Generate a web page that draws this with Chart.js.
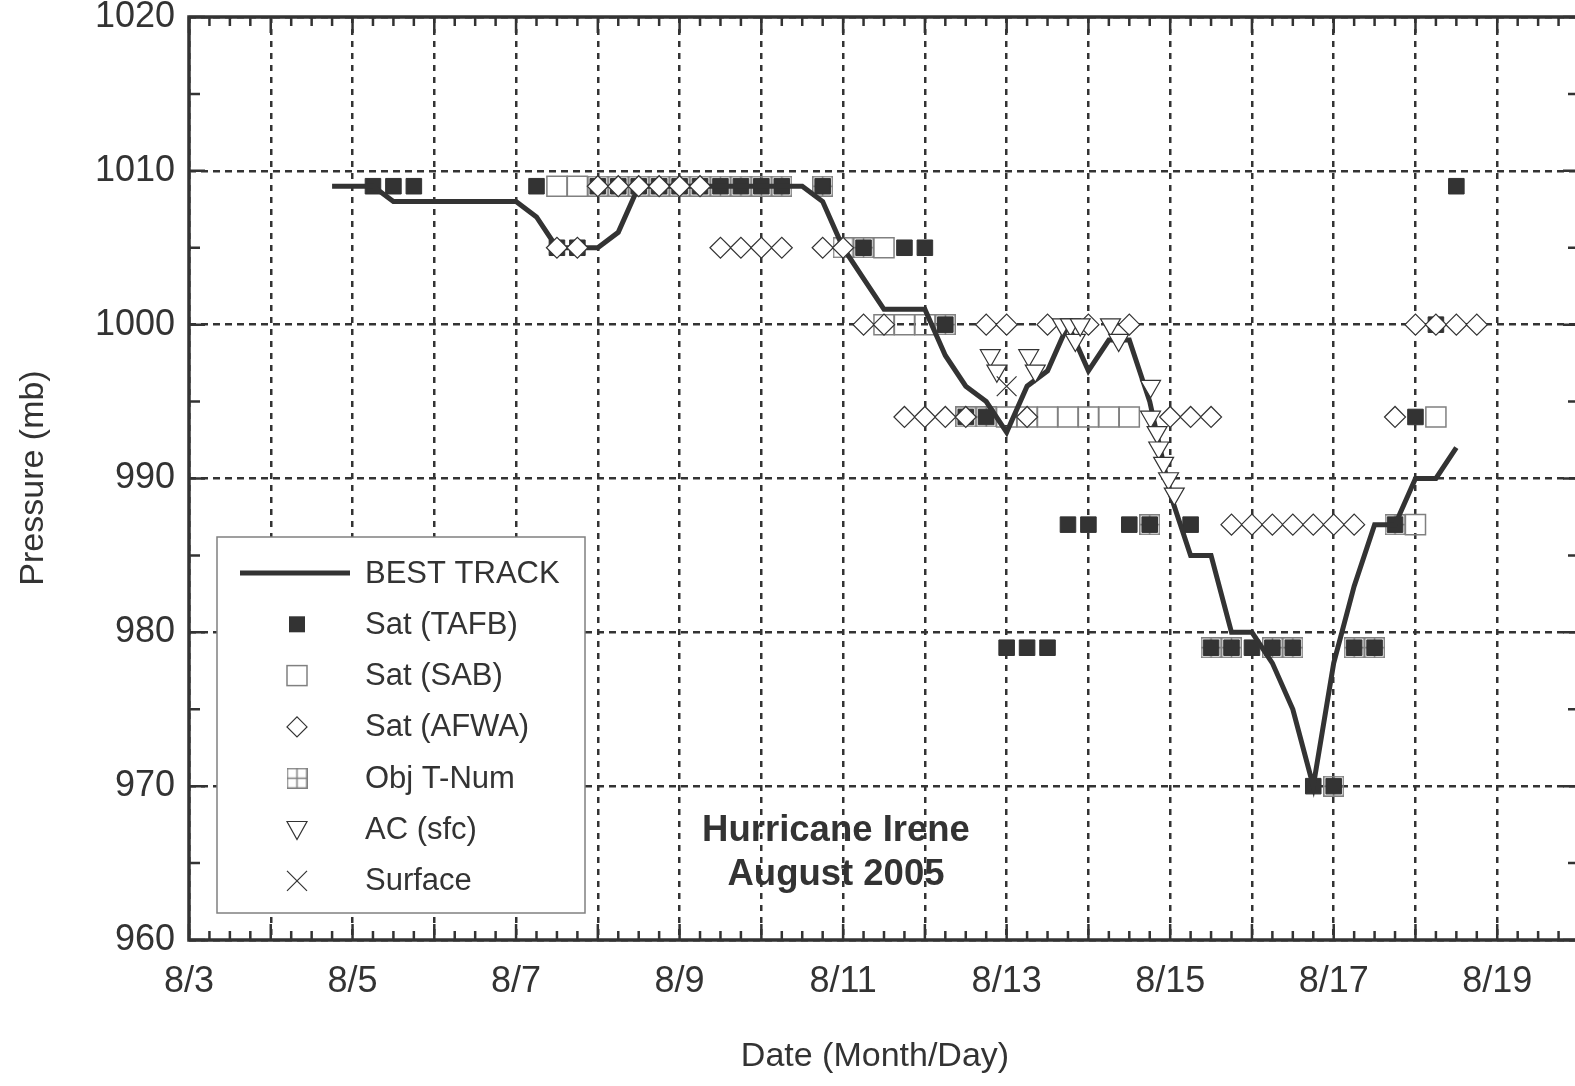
<!DOCTYPE html>
<html>
<head>
<meta charset="utf-8">
<title>Hurricane Irene - August 2005</title>
<script src="https://cdn.jsdelivr.net/npm/chart.js@4.4.1/dist/chart.umd.min.js"></script>
<style>
  html, body { margin: 0; padding: 0; background: #fff; overflow: hidden; }
  #wrap { width: 1575px; height: 1086px; overflow: hidden; }
  canvas { display: block; }
</style>
</head>
<body>
<div id="wrap"><canvas id="irene" width="1640" height="1086"></canvas></div>
<script>
// times are August days in decimal form (5.25 = 8/5 06Z), pressures in mb
const trackDay = [4.75, 5, 5.25, 5.5, 5.75, 6, 6.25, 6.5, 6.75, 7, 7.25, 7.5, 7.75, 8, 8.25, 8.5, 8.75, 9, 9.25, 9.5,
  9.75, 10, 10.25, 10.5, 10.75, 11, 11.25, 11.5, 11.75, 12, 12.25, 12.5, 12.75, 13, 13.25, 13.5, 13.75, 14, 14.25, 14.5,
  14.75, 15, 15.25, 15.5, 15.75, 16, 16.25, 16.5, 16.75, 17, 17.25, 17.5, 17.75, 18, 18.25, 18.5];
const trackPres = [1009, 1009, 1009, 1008, 1008, 1008, 1008, 1008, 1008, 1008, 1007, 1005, 1005, 1005, 1006, 1009, 1009, 1009, 1009, 1009,
  1009, 1009, 1009, 1009, 1008, 1005, 1003, 1001, 1001, 1001, 998, 996, 995, 993, 996, 997, 1000, 997, 999, 999,
  995, 989, 985, 985, 980, 980, 978, 975, 970, 978, 983, 987, 987, 990, 990, 992];

const tafbDay = [5.25, 5.5, 5.75, 7.25, 7.5, 7.75, 8, 8.25, 8.5, 8.75, 9, 9.25, 9.5, 9.75, 10, 10.25, 10.75, 11.25, 11.75, 12,
  12.25, 12.5, 12.75, 13, 13.25, 13.5, 13.75, 14, 14.5, 14.75, 15.25, 15.5, 15.75, 16, 16.25, 16.5, 16.75, 17, 17.25, 17.5,
  17.75, 18, 18.25, 18.5];
const tafbPres = [1009, 1009, 1009, 1009, 1005, 1005, 1009, 1009, 1009, 1009, 1009, 1009, 1009, 1009, 1009, 1009, 1009, 1005, 1005, 1005,
  1000, 994, 994, 979, 979, 979, 987, 987, 987, 987, 987, 979, 979, 979, 979, 979, 970, 970, 979, 979,
  987, 994, 1000, 1009];

const sabDay = [7.5, 7.75, 11.5, 11.5, 11.75, 12, 13, 13.25, 13.5, 13.75, 14, 14.25, 14.5, 18, 18.25];
const sabPres = [1009, 1009, 1005, 1000, 1000, 1000, 994, 994, 994, 994, 994, 994, 994, 987, 994];

const afwaDay = [7.5, 7.75, 8, 8.25, 8.5, 8.75, 9, 9.25, 9.5, 9.75, 10, 10.25, 10.75, 11, 11.25, 11.5, 11.75, 12, 12.25, 12.5,
  12.75, 13, 13.25, 13.5, 14, 14.5, 15, 15.25, 15.5, 15.75, 16, 16.25, 16.5, 16.75, 17, 17.25, 17.75, 18, 18.25, 18.5, 18.75];
const afwaPres = [1005, 1005, 1009, 1009, 1009, 1009, 1009, 1009, 1005, 1005, 1005, 1005, 1005, 1005, 1000, 1000, 994, 994, 994, 994,
  1000, 1000, 994, 1000, 1000, 1000, 994, 994, 994, 987, 987, 987, 987, 987, 987, 987, 994, 1000, 1000, 1000, 1000];

const objDay = [8, 8.25, 8.5, 8.75, 9, 9.25, 9.5, 9.75, 10, 10.25, 10.75, 11, 11.25, 12.25, 12.5, 12.75, 14.75, 15.5, 15.75, 16.25,
  16.5, 17, 17.25, 17.5, 17.75];
const objPres = [1009, 1009, 1009, 1009, 1009, 1009, 1009, 1009, 1009, 1009, 1009, 1005, 1005, 1000, 994, 994, 987, 979, 979, 979,
  979, 970, 979, 979, 987];

const acDay = [12.8, 12.88, 13.27, 13.35, 13.68, 13.78, 13.84, 13.9, 14.27, 14.37, 14.76, 14.76, 14.84, 14.86, 14.92, 14.98, 15.05];
const acPres = [998, 997, 998, 997, 1000, 1000, 999, 1000, 1000, 999, 996, 994, 993, 992, 991, 990, 989];

const sfcDay = [13.0];
const sfcPres = [996];

const gridDays = [3, 4, 5, 6, 7, 8, 9, 10, 11, 12, 13, 14, 15, 16, 17, 18, 19, 20];
const labelDays = [3, 5, 7, 9, 11, 13, 15, 17, 19];
const labelText = ['8/3', '8/5', '8/7', '8/9', '8/11', '8/13', '8/15', '8/17', '8/19'];

const ink = '#333';
const gray = '#808080';
const fam = '"Liberation Sans", Arial, Helvetica, sans-serif';
// the original frame runs a few pixels past the right edge of the picture
const plotBox = { left: 189, top: 17, right: 1579, bottom: 940 };

function pts(days, pres) {
  return days.map((d, i) => ({ x: d, y: pres[i] }));
}

// square with a cross, for the objective T-number marker
function gridBox(size, color) {
  const c = document.createElement('canvas');
  c.width = size; c.height = size;
  const g = c.getContext('2d');
  g.strokeStyle = color;
  g.lineWidth = 1.5;
  g.strokeRect(0.75, 0.75, size - 1.5, size - 1.5);
  g.beginPath();
  g.moveTo(size / 2, 0); g.lineTo(size / 2, size);
  g.moveTo(0, size / 2); g.lineTo(size, size / 2);
  g.stroke();
  return c;
}
const objMark = gridBox(21, gray);

function drawMark(ctx, kind, x, y) {
  ctx.save();
  ctx.lineWidth = 1.2;
  ctx.strokeStyle = ink;
  ctx.fillStyle = ink;
  ctx.beginPath();
  if (kind === 'line') {
    ctx.lineWidth = 5;
    ctx.moveTo(x - 57, y); ctx.lineTo(x + 53, y);
    ctx.stroke();
  } else if (kind === 'fill') {
    ctx.fillRect(x - 8, y - 8, 16, 16);
  } else if (kind === 'open') {
    ctx.strokeStyle = gray;
    ctx.lineWidth = 1.5;
    ctx.strokeRect(x - 10, y - 10, 20, 20);
  } else if (kind === 'diamond') {
    ctx.moveTo(x - 10, y); ctx.lineTo(x, y - 10); ctx.lineTo(x + 10, y); ctx.lineTo(x, y + 10);
    ctx.closePath(); ctx.stroke();
  } else if (kind === 'grid') {
    ctx.drawImage(objMark, x - 10.5, y - 10.5);
  } else if (kind === 'tri') {
    ctx.moveTo(x - 10, y - 8); ctx.lineTo(x + 10, y - 8); ctx.lineTo(x, y + 10);
    ctx.closePath(); ctx.stroke();
  } else if (kind === 'cross') {
    ctx.moveTo(x - 10, y - 10); ctx.lineTo(x + 10, y + 10);
    ctx.moveTo(x + 10, y - 10); ctx.lineTo(x - 10, y + 10);
    ctx.stroke();
  }
  ctx.restore();
}

const legendRows = [
  ['line', 'BEST TRACK'],
  ['fill', 'Sat (TAFB)'],
  ['open', 'Sat (SAB)'],
  ['diamond', 'Sat (AFWA)'],
  ['grid', 'Obj T-Num'],
  ['tri', 'AC (sfc)'],
  ['cross', 'Surface']
];

const noPad = () => ({ left: 0, top: 0, right: 0, bottom: 0 });

const decor = {
  id: 'decor',
  beforeDraw(chart) {
    // storm label sits under the grid, as in the original figure
    const ctx = chart.ctx;
    ctx.save();
    ctx.fillStyle = ink;
    ctx.font = 'bold 36.5px ' + fam;
    ctx.textAlign = 'center';
    ctx.textBaseline = 'middle';
    ctx.fillText('Hurricane Irene', 836, 831);
    ctx.fillText('August 2005', 836, 875);
    ctx.restore();
  },
  afterDatasetsDraw(chart) {
    const ctx = chart.ctx, a = chart.chartArea;
    const xs = chart.scales.x, ys = chart.scales.y;
    ctx.save();
    ctx.strokeStyle = ink;
    ctx.lineWidth = 2.5;
    ctx.beginPath();
    for (let d = xs.min; d <= xs.max + 1e-9; d += 0.25) {
      const px = xs.getPixelForValue(d);
      const len = Math.abs(d - Math.round(d)) < 1e-6 ? 16 : 9;
      ctx.moveTo(px, a.bottom); ctx.lineTo(px, a.bottom - len);
      ctx.moveTo(px, a.top); ctx.lineTo(px, a.top + len);
    }
    for (let p = ys.min; p <= ys.max; p += 5) {
      const py = ys.getPixelForValue(p);
      const len = p % 10 ? 11 : 16;
      ctx.moveTo(a.left, py); ctx.lineTo(a.left + len, py);
      ctx.moveTo(a.right, py); ctx.lineTo(a.right - len, py);
    }
    ctx.stroke();
    ctx.lineWidth = 3.5;
    ctx.strokeRect(a.left, a.top, a.right - a.left, a.bottom - a.top);
    ctx.restore();
  },
  afterDraw(chart) {
    const ctx = chart.ctx, a = chart.chartArea;
    ctx.save();
    // legend box
    ctx.fillStyle = '#fff';
    ctx.fillRect(217, 537, 368, 376);
    ctx.strokeStyle = gray;
    ctx.lineWidth = 1.5;
    ctx.strokeRect(217, 537, 368, 376);
    ctx.font = '31px ' + fam;
    ctx.textBaseline = 'middle';
    ctx.textAlign = 'left';
    legendRows.forEach((r, i) => {
      const y = 573 + i * 51.3;
      drawMark(ctx, r[0], 297, y);
      ctx.fillStyle = ink;
      ctx.fillText(r[1], 365, y + 1);
    });
    // axis titles
    ctx.fillStyle = ink;
    ctx.font = '34px ' + fam;
    ctx.textAlign = 'center';
    ctx.fillText('Date (Month/Day)', 875, 1057);
    ctx.translate(34, 478);
    ctx.rotate(-Math.PI / 2);
    ctx.fillText('Pressure (mb)', 0, 0);
    ctx.restore();
  }
};

const chart = new Chart(document.getElementById('irene'), {
  type: 'scatter',
  data: {
    datasets: [
      {
        label: 'BEST TRACK', data: pts(trackDay, trackPres), showLine: true,
        borderColor: ink, borderWidth: 5, pointRadius: 0, tension: 0, order: 3
      },
      {
        label: 'Sat (TAFB)', data: pts(tafbDay, tafbPres), pointStyle: 'rect', pointRadius: 11,
        backgroundColor: ink, borderColor: ink, borderWidth: 1, order: 4
      },
      {
        label: 'Sat (SAB)', data: pts(sabDay, sabPres), pointStyle: 'rect', pointRadius: 14.2,
        backgroundColor: 'rgba(0,0,0,0)', borderColor: gray, borderWidth: 1.5, order: 5
      },
      {
        label: 'Sat (AFWA)', data: pts(afwaDay, afwaPres), pointStyle: 'rectRot', pointRadius: 10.5,
        backgroundColor: '#fff', borderColor: ink, borderWidth: 1.2, order: 2
      },
      {
        label: 'Obj T-Num', data: pts(objDay, objPres), pointStyle: objMark, order: 6
      },
      {
        label: 'AC (sfc)', data: pts(acDay, acPres), pointStyle: 'triangle', rotation: 180, pointRadius: 11.5,
        backgroundColor: '#fff', borderColor: ink, borderWidth: 1.2, order: 1
      },
      {
        label: 'Surface', data: pts(sfcDay, sfcPres), pointStyle: 'crossRot', pointRadius: 14,
        borderColor: ink, borderWidth: 1.2, order: 0
      }
    ]
  },
  options: {
    responsive: false,
    animation: false,
    devicePixelRatio: 1,
    events: [],
    layout: { padding: { top: 17, right: 61, left: 2, bottom: 0 } },
    plugins: { legend: { display: false }, tooltip: { enabled: false } },
    scales: {
      x: {
        type: 'linear', min: 3, max: 20,
        afterBuildTicks: s => { s.ticks = gridDays.map(v => ({ value: v })); },
        afterFit: s => { s.height = 146; s.paddingLeft = 0; s.paddingRight = 0; s.getPadding = noPad; },
        grid: { color: ink, lineWidth: 2.5, drawTicks: false },
        border: { display: false, dash: [6, 6] },
        ticks: {
          autoSkip: false, maxRotation: 0, padding: 20, color: ink,
          font: { family: fam, size: 36 },
          callback: v => { const i = labelDays.indexOf(v); return i < 0 ? '' : labelText[i]; }
        }
      },
      y: {
        min: 960, max: 1020,
        afterFit: s => { s.width = 187; s.paddingTop = 0; s.paddingBottom = 0; s.getPadding = noPad; },
        grid: { color: ink, lineWidth: 2.5, drawTicks: false },
        border: { display: false, dash: [7, 5] },
        ticks: {
          stepSize: 10, padding: 14, color: ink,
          font: { family: fam, size: 36 },
          callback: v => String(v)
        }
      }
    }
  },
  plugins: [decor]
});

// nudge the layout padding so the plot frame lands where the original has it
for (let pass = 0; pass < 4; pass++) {
  const ca = chart.chartArea;
  const lp = chart.config.options.layout.padding;
  const dr = plotBox.right - ca.right, db = plotBox.bottom - ca.bottom;
  const dl = ca.left - plotBox.left, dt = ca.top - plotBox.top;
  if (Math.abs(dr) < 0.5 && Math.abs(db) < 0.5 && Math.abs(dl) < 0.5 && Math.abs(dt) < 0.5) break;
  lp.right -= dr; lp.bottom -= db; lp.left -= dl; lp.top -= dt;
  chart.update();
}
</script>
</body>
</html>
